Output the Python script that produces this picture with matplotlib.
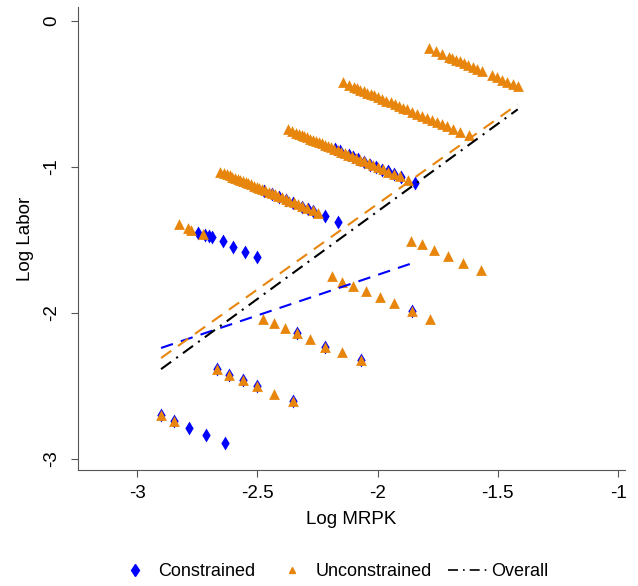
import numpy as np
import matplotlib
matplotlib.use("Agg")
import matplotlib.pyplot as plt

plt.rcParams['font.family'] = ['Liberation Sans', 'DejaVu Sans']

# unconstrained firms (orange triangles)
unc_x = [
    # top row
    -1.786, -1.758, -1.730, -1.703, -1.689, -1.675, -1.657, -1.640, -1.622, -1.605,
    -1.588, -1.564, -1.526, -1.504, -1.481, -1.460, -1.438, -1.416,
    # second row
    -2.145, -2.120, -2.099, -2.085, -2.071, -2.057, -2.043, -2.029, -2.015, -1.999,
    -1.980, -1.963, -1.946, -1.929, -1.911, -1.893, -1.876, -1.855, -1.835, -1.814,
    -1.793, -1.772, -1.751, -1.730, -1.710, -1.685, -1.657, -1.620,
    # third row
    -2.371, -2.355, -2.340, -2.328, -2.316, -2.304, -2.292, -2.280, -2.268, -2.256,
    -2.244, -2.232, -2.220, -2.207, -2.194, -2.180, -2.166, -2.152, -2.137, -2.122,
    -2.106, -2.090, -2.073, -2.055, -2.037, -2.018, -1.998, -1.977, -1.955, -1.932,
    -1.905, -1.875,
    # fourth row
    -2.654, -2.640, -2.627, -2.615, -2.603, -2.592, -2.581, -2.570, -2.559, -2.548,
    -2.537, -2.526, -2.515, -2.503, -2.491, -2.479, -2.466, -2.453, -2.440, -2.426,
    -2.412, -2.397, -2.382, -2.366, -2.349, -2.331, -2.312, -2.292, -2.270, -2.246,
    # fifth row
    -2.825, -2.790, -2.775, -2.725,
    # lower groups
    -1.862, -1.813, -1.767, -1.708, -1.646, -1.570,
    -2.190, -2.146, -2.100, -2.046, -1.990, -1.930, -1.858, -1.783,
    -2.475, -2.430, -2.383, -2.333, -2.279, -2.217, -2.146, -2.067,
    -2.667, -2.617, -2.558, -2.500, -2.429, -2.350,
    -2.900, -2.846,
]
unc_y = [
    -0.186, -0.206, -0.226, -0.245, -0.255, -0.265, -0.277, -0.289, -0.302, -0.314,
    -0.326, -0.343, -0.370, -0.385, -0.401, -0.416, -0.432, -0.447,
    -0.419, -0.436, -0.451, -0.461, -0.470, -0.480, -0.490, -0.500, -0.509, -0.520,
    -0.534, -0.545, -0.557, -0.569, -0.582, -0.594, -0.606, -0.621, -0.634, -0.649,
    -0.664, -0.678, -0.693, -0.707, -0.721, -0.739, -0.758, -0.784,
    -0.742, -0.753, -0.764, -0.772, -0.780, -0.789, -0.797, -0.805, -0.813, -0.822,
    -0.830, -0.838, -0.847, -0.856, -0.865, -0.875, -0.884, -0.894, -0.904, -0.915,
    -0.926, -0.937, -0.949, -0.961, -0.974, -0.987, -1.001, -1.015, -1.031, -1.047,
    -1.065, -1.086,
    -1.031, -1.041, -1.050, -1.058, -1.066, -1.074, -1.081, -1.089, -1.097, -1.104,
    -1.112, -1.119, -1.127, -1.135, -1.143, -1.152, -1.161, -1.170, -1.179, -1.188,
    -1.198, -1.208, -1.219, -1.230, -1.241, -1.254, -1.267, -1.281, -1.296, -1.313,
    -1.390, -1.420, -1.430, -1.460,
    -1.505, -1.530, -1.567, -1.608, -1.656, -1.704,
    -1.750, -1.787, -1.814, -1.850, -1.890, -1.930, -1.986, -2.040,
    -2.040, -2.070, -2.100, -2.140, -2.180, -2.230, -2.270, -2.320,
    -2.385, -2.426, -2.460, -2.500, -2.557, -2.605,
    -2.700, -2.742,
]

# constrained firms (blue diamonds)
con_x = [
    -2.175, -2.158, -2.120, -2.100, -2.080, -2.058, -2.030, -2.008,
    -1.980, -1.958, -1.930, -1.904, -1.846,
    -2.470, -2.440, -2.410, -2.380, -2.350, -2.313, -2.288, -2.267, -2.217,
    -2.163,
    -2.746, -2.717, -2.700, -2.688, -2.642, -2.600, -2.550, -2.500,
    -1.858, -2.333, -2.217, -2.067,
    -2.667, -2.617, -2.558, -2.500, -2.350,
    -2.900, -2.846, -2.783, -2.713, -2.633,
]
con_y = [
    -0.878, -0.893, -0.918, -0.932, -0.946, -0.963, -0.983, -0.999,
    -1.018, -1.030, -1.050, -1.072, -1.113,
    -1.162, -1.182, -1.203, -1.224, -1.245, -1.272, -1.287, -1.302, -1.333,
    -1.375,
    -1.450, -1.464, -1.470, -1.478, -1.510, -1.546, -1.580, -1.620,
    -1.986, -2.140, -2.230, -2.320,
    -2.385, -2.426, -2.460, -2.500, -2.605,
    -2.700, -2.742, -2.790, -2.838, -2.893,
]

# fitted lines (end points)
fit_con_x = [-2.90, -1.85]
fit_con_y = [-2.240, -1.656]
fit_unc_x = [-2.90, -1.417]
fit_unc_y = [-2.309, -0.570]
fit_all_x = [-2.90, -1.417]
fit_all_y = [-2.385, -0.605]

blue = '#0000FF'
orange = '#E8850C'

fig = plt.figure(figsize=(6.38, 5.86), dpi=100)
ax = fig.add_axes([0.122, 0.198, 0.858, 0.79])

ax.scatter(con_x, con_y, marker='d', s=50, color=blue, linewidths=0, zorder=2)
ax.scatter(unc_x, unc_y, marker='^', s=60, color=orange, linewidths=0, zorder=3)

ax.plot(fit_con_x, fit_con_y, color=blue, lw=1.5, dashes=(6, 4), zorder=4)
ax.plot(fit_unc_x, fit_unc_y, color=orange, lw=1.5, dashes=(6, 4), zorder=4)
ax.plot(fit_all_x, fit_all_y, color='black', lw=1.5, dashes=(6, 3, 1, 3), zorder=4)

ax.set_xlim(-3.246, -0.97)
ax.set_ylim(-3.076, 0.096)
ax.set_xticks([-3, -2.5, -2, -1.5, -1])
ax.set_xticklabels(['-3', '-2.5', '-2', '-1.5', '-1'])
ax.set_yticks([0, -1, -2, -3])
ax.set_yticklabels(['0', '-1', '-2', '-3'], rotation=90, va='center')
ax.tick_params(labelsize=13.5, length=5, color='#555555')
ax.tick_params(axis='x', pad=6)
ax.tick_params(axis='y', pad=8)
for s in ['top', 'right']:
    ax.spines[s].set_visible(False)
for s in ['left', 'bottom']:
    ax.spines[s].set_color('#555555')

ax.set_xlabel('Log MRPK', fontsize=13.5, labelpad=6)
ax.set_ylabel('Log Labor', fontsize=13.5, labelpad=6)

h1 = plt.Line2D([], [], marker='d', color=blue, ls='none', markersize=6)
h2 = plt.Line2D([], [], marker='^', color=orange, ls='none', markersize=5)
h3 = plt.Line2D([], [], color='black', lw=1.2, dashes=(6, 3, 1, 3))
fig.legend([h1, h2, h3], ['Constrained', 'Unconstrained', 'Overall'],
           loc='lower center', bbox_to_anchor=(0.52, -0.018), ncol=3, frameon=False,
           fontsize=13, handlelength=2.2, columnspacing=0.9, handletextpad=0.2)

fig.savefig('out.png', dpi=100)
